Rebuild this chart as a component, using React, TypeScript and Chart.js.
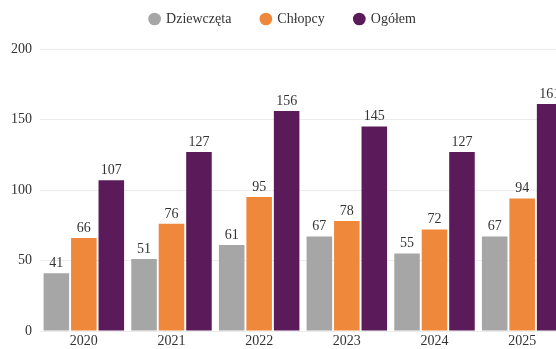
import React, { useEffect, useRef } from "react";
import { Chart, registerables } from "chart.js";

Chart.register(...registerables);

const categories = ["2020", "2021", "2022", "2023", "2024", "2025"];
const girls = [41, 51, 61, 67, 55, 67];
const boys = [66, 76, 95, 78, 72, 94];
const total = [107, 127, 156, 145, 127, 161];
const yTicks = [0, 50, 100, 150, 200];

const FONT = "'Liberation Serif', 'DejaVu Serif', serif";

const valueLabels = {
  id: "valueLabels",
  afterDatasetsDraw(chart: any) {
    const ctx = chart.ctx;
    ctx.save();
    ctx.font = `14px ${FONT}`;
    ctx.fillStyle = "#333333";
    ctx.textAlign = "center";
    ctx.textBaseline = "bottom";
    chart.data.datasets.forEach((ds: any, i: number) => {
      const meta = chart.getDatasetMeta(i);
      meta.data.forEach((el: any, j: number) => {
        ctx.fillText(String(ds.data[j]), el.x, el.y - 3);
      });
    });
    ctx.restore();
  },
};

const legendSpacing = {
  id: "legendSpacing",
  beforeInit(chart: any) {
    const orig = chart.legend.fit;
    chart.legend.fit = function () {
      orig.bind(chart.legend)();
      this.height += 13;
    };
  },
};

export default function App() {
  const ref = useRef<HTMLCanvasElement | null>(null);
  useEffect(() => {
    if (!ref.current) return;
    const chart = new Chart(ref.current, {
      type: "bar",
      data: {
        labels: categories,
        datasets: [
          { label: "Dziewczęta", data: girls, backgroundColor: "#a6a6a6" },
          { label: "Chłopcy", data: boys, backgroundColor: "#f0883c" },
          { label: "Ogółem", data: total, backgroundColor: "#5b1a59" },
        ],
      },
      options: {
        responsive: false,
        animation: false,
        layout: { padding: { left: 0, right: 0, top: -18, bottom: 0 } },
        datasets: {
          bar: { categoryPercentage: 0.94, barPercentage: 0.93 },
        } as any,
        plugins: {
          legend: {
            position: "top",
            labels: {
              usePointStyle: true,
              pointStyle: "circle",
              boxWidth: 9,
              boxHeight: 9,
              padding: 30,
              color: "#333333",
              font: { family: FONT, size: 14 },
            },
          },
          tooltip: { enabled: false },
        },
        scales: {
          x: {
            afterFit(scale: any) {
              scale.height = 18;
            },
            grid: { display: false, drawTicks: false },
            border: { display: false },
            ticks: { color: "#333333", font: { family: FONT, size: 14 }, padding: 2 },
          },
          y: {
            min: 0,
            max: 200,
            afterFit(scale: any) {
              scale.width = 40;
            },
            afterBuildTicks(scale: any) {
              scale.ticks = yTicks.map((v) => ({ value: v }));
            },
            grid: { color: "#ececec", drawTicks: false },
            border: { display: false },
            ticks: { color: "#333333", font: { family: FONT, size: 14 }, padding: 8 },
          },
        },
      },
      plugins: [valueLabels, legendSpacing],
    });
    return () => chart.destroy();
  }, []);
  return (
    <div
      style={{
        position: "fixed",
        left: 0,
        top: 0,
        width: 556,
        height: 349,
        overflow: "hidden",
        background: "#ffffff",
      }}
    >
      <canvas ref={ref} width={566} height={349} style={{ display: "block" }} />
    </div>
  );
}
